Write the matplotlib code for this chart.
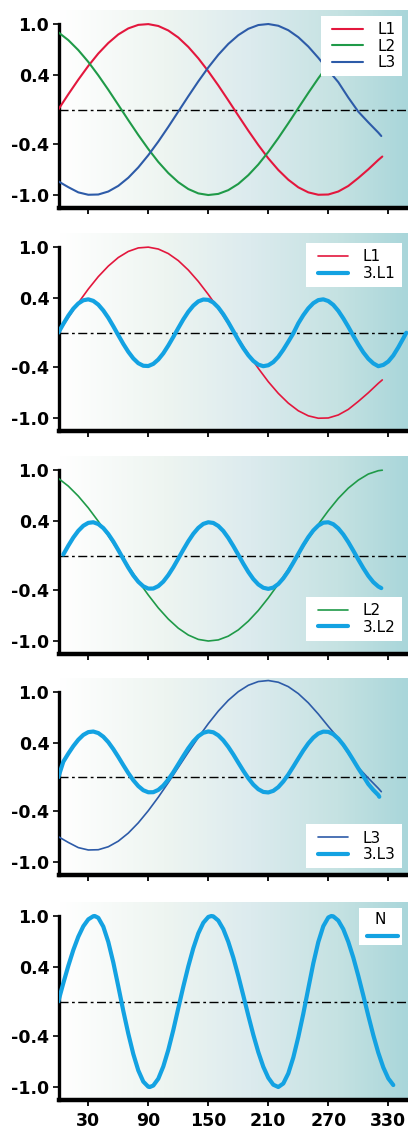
import numpy as np
import matplotlib
matplotlib.use("Agg")
import matplotlib.pyplot as plt
from matplotlib.colors import LinearSegmentedColormap
from matplotlib.lines import Line2D
from matplotlib.legend_handler import HandlerLine2D
from matplotlib.font_manager import FontProperties

plt.rcParams['axes.unicode_minus'] = False
plt.rcParams['lines.scale_dashes'] = False

# ---------------- data ----------------
x_ticks = [30, 90, 150, 210, 270, 330]
x_tick_labels = ["30", "90", "150", "210", "270", "330"]
y_ticks = [-1.0, -0.4, 0.4, 1.0]
y_tick_labels = ["-1.0", "-0.4", "0.4", "1.0"]

L1_x = list(range(0, 330, 10)) + [324]
L1_y = [0, .178, .349, .510, .655, .778, .878, .949, .990, .999, .977, .924, .842, .732,
        .599, .447, .282, .107, -.071, -.247, -.415, -.571, -.707, -.821, -.910, -.969,
        -.997, -.994, -.959, -.894, -.801, -.700, -.590, -.550]

L2_x = list(range(0, 330, 10)) + [324]
L2_y = [.903, .812, .695, .557, .400, .231, .054, -.124, -.298, -.462, -.613, -.743, -.850,
        -.930, -.981, -1.0, -.987, -.943, -.870, -.768, -.643, -.496, -.334, -.161, .017,
        .194, .365, .524, .668, .788, .882, .953, .992, .998]

L3_x = list(range(0, 330, 10)) + [323]
L3_y = [-.840, -.908, -.969, -.997, -.994, -.959, -.893, -.798, -.677, -.534, -.375, -.203,
        -.024, .155, .329, .492, .640, .767, .869, .944, .988, 1.0, .980, .928, .846, .737,
        .605, .460, .320, .140, -.025, -.150, -.270, -.310]

# L3 as drawn in the 4th panel (sits slightly higher)
L3b_y = [-.700, -.768, -.829, -.857, -.854, -.819, -.753, -.658, -.537, -.394, -.235, -.063,
         .116, .295, .469, .632, .780, .907, 1.009, 1.084, 1.128, 1.140, 1.120, 1.068, .986,
         .877, .745, .600, .460, .280, .115, -.010, -.130, -.170]

H1_x = list(range(0, 350, 5)) + [348]
H1_y = [0, .103, .199, .281, .342, .379, .390, .372, .328, .260, .175, .076, -.028, -.130,
        -.222, -.299, -.355, -.385, -.388, -.363, -.312, -.240, -.149, -.049, .055, .156,
        .245, .316, .366, .388, .384, .353, .295, .216, .122, .020, -.083, -.179, -.262,
        -.328, -.372, -.390, -.379, -.342, -.280, -.198, -.104, -.007, .110, .205, .285,
        .345, .381, .390, .370, .325, .256, .168, .070, -.035, -.136, -.228, -.303, -.357,
        -.390, -.375, -.335, -.265, -.170, -.065, 0.0]

H2_x = list(range(5, 325, 5)) + [323]
H2_y = [.012, .115, .210, .289, .348, .382, .389, .368, .321, .251, .164, .064, -.040, -.142,
        -.233, -.307, -.360, -.387, -.386, -.358, -.305, -.229, -.138, -.036, .068, .167,
        .254, .323, .370, .389, .381, .346, .287, .206, .111, .009, -.095, -.192, -.275,
        -.338, -.377, -.390, -.375, -.333, -.267, -.183, -.084, .019, .122, .215, .293,
        .351, .384, .389, .366, .317, .246, .157, .057, -.047, -.147, -.238, -.311, -.362,
        -.381]

H3_x = [0] + list(range(5, 325, 5)) + [321]
H3_y = [0.0, .183, .279, .367, .442, .499, .532, .539, .521, .478, .414, .332, .240, .143,
        .049, -.035, -.104, -.153, -.177, -.176, -.149, -.098, -.027, .059, .154, .250,
        .342, .422, .484, .524, .540, .530, .494, .435, .358, .269, .172, .077, -.011,
        -.086, -.141, -.173, -.179, -.160, -.116, -.050, .032, .125, .221, .315, .399,
        .467, .515, .538, .535, .507, .455, .383, .297, .202, .105, .014, -.080, -.150,
        -.210, -.230]

N_x = [0, 5, 10, 15, 20, 25, 30, 35, 36.5, 40, 45, 50, 55, 60, 65, 70, 75, 80, 85, 90, 91.5,
       95, 100, 105, 110, 115, 120, 125, 130, 135, 140, 145, 150, 153, 155, 160, 165, 170,
       175, 180, 185, 190, 195, 200, 205, 210, 215, 220, 225, 230, 235, 240, 245, 250, 255,
       260, 265, 270, 273, 275, 280, 285, 290, 295, 300, 305, 310, 315, 320, 325, 330, 335]
N_y = [0, .214, .417, .602, .758, .880, .961, .998, 1.0, .979, .876, .697, .457, .177, -.110,
       -.376, -.614, -.806, -.937, -.997, -1.0, -.983, -.903, -.760, -.566, -.334, -.078,
       .174, .411, .623, .797, .921, .989, 1.0, .996, .947, .846, .698, .514, .300, .070,
       -.163, -.388, -.591, -.763, -.892, -.973, -1.0, -.959, -.841, -.655, -.415, -.143,
       .153, .446, .696, .881, .983, 1.0, .996, .947, .846, .698, .514, .300, .070, -.166,
       -.394, -.599, -.771, -.900, -.977]

# ---------------- style ----------------
C_RED = '#e3173d'
C_GREEN = '#1f9a48'
C_BLUE = '#2d5ba8'
C_CYAN = '#13a2e2'

W, H = 408, 1131
fig = plt.figure(figsize=(W / 100, H / 100), dpi=100)
fig.patch.set_facecolor('white')

bg_cmap = LinearSegmentedColormap.from_list(
    'bg', [(0.0, '#ffffff'), (0.3, '#eef5f1'), (0.55, '#dcebee'), (0.8, '#c5e2e2'), (1.0, '#a9d6da')])

YLIM = (-1.146, 1.164)
XLIM = (0.7, 349.7)
panels_px = [(10, 207.5), (233, 431), (456, 653.5), (678.5, 874.5), (902, 1099.5)]
tick_font = FontProperties(family='DejaVu Sans', weight='bold', size=12.5)
leg_font = FontProperties(family='DejaVu Sans', size=11)
small_font = FontProperties(family='DejaVu Sans', size=6)

axes = []
for i, (top, bot) in enumerate(panels_px):
    left = 59
    ax = fig.add_axes([left / W, 1 - bot / H, (W - left) / W, (bot - top) / H])
    grad = np.linspace(0, 1, 256).reshape(1, -1)
    ax.imshow(grad, cmap=bg_cmap, extent=[0, 1, 0, 1], transform=ax.transAxes,
              aspect='auto', zorder=0, interpolation='bilinear')
    ax.set_xlim(*XLIM)
    ax.set_ylim(*YLIM)
    ax.set_aspect('auto')
    for s in ['top', 'right']:
        ax.spines[s].set_visible(False)
    ax.spines['left'].set_linewidth(2.4)
    ax.spines['bottom'].set_linewidth(3.2)
    ax.spines['left'].set_bounds(YLIM[0], 1.0)
    ax.set_yticks(y_ticks)
    ax.set_yticklabels(y_tick_labels, fontproperties=tick_font)
    ax.set_xticks(x_ticks)
    if i == 4:
        ax.set_xticklabels(x_tick_labels, fontproperties=tick_font)
    else:
        ax.set_xticklabels([])
    ax.tick_params(axis='y', length=4, width=1.2, pad=3, direction='out')
    ax.tick_params(axis='x', length=4, width=1.3, pad=5, direction='out')
    ax.axhline(0, color='black', lw=1.0, dashes=(6.5, 2.5, 2, 2.5), zorder=1.5)
    axes.append(ax)

handler = {Line2D: HandlerLine2D(xpad=0.37)}
leg_kw = dict(frameon=True, fancybox=False, edgecolor='none', facecolor='white',
              framealpha=1, borderaxespad=0, prop=leg_font, handlelength=2.37,
              handletextpad=0.95, labelspacing=0.1, borderpad=0.4, handler_map=handler)

# Panel 1
ax = axes[0]
ax.plot(L1_x, L1_y, color=C_RED, lw=1.5, solid_capstyle='round', zorder=3, label='L1')
ax.plot(L2_x, L2_y, color=C_GREEN, lw=1.5, solid_capstyle='round', zorder=3, label='L2')
ax.plot(L3_x, L3_y, color=C_BLUE, lw=1.5, solid_capstyle='round', zorder=3, label='L3')
ax.legend(loc='upper right', bbox_to_anchor=(0.982, 0.970), **leg_kw)

# Panel 2
ax = axes[1]
ax.plot(L1_x, L1_y, color=C_RED, lw=1.2, solid_capstyle='round', zorder=3, label='L1')
ax.plot(H1_x, H1_y, color=C_CYAN, lw=3.0, solid_capstyle='round', zorder=4, label='3.L1')
ax.legend(loc='upper right', bbox_to_anchor=(0.982, 0.948), **leg_kw)

# Panel 3
ax = axes[2]
ax.plot(L2_x, L2_y, color=C_GREEN, lw=1.2, solid_capstyle='round', zorder=3, label='L2')
ax.plot(H2_x, H2_y, color=C_CYAN, lw=3.0, solid_capstyle='round', zorder=4, label='3.L2')
ax.legend(loc='lower right', bbox_to_anchor=(0.982, 0.064), **leg_kw)

# Panel 4
ax = axes[3]
ax.plot(L3_x, L3b_y, color=C_BLUE, lw=1.2, solid_capstyle='round', zorder=3, label='L3')
ax.plot(H3_x, H3_y, color=C_CYAN, lw=3.0, solid_capstyle='round', zorder=4, label='3.L3')
ax.legend(loc='lower right', bbox_to_anchor=(0.982, 0.032), **leg_kw)

# Panel 5
ax = axes[4]
lnN, = ax.plot(N_x, N_y, color=C_CYAN, lw=3.0, solid_capstyle='round', zorder=4)
ax.legend([lnN], [''], title='N', title_fontproperties=leg_font, loc='upper right',
          bbox_to_anchor=(0.982, 0.968), frameon=True, fancybox=False, edgecolor='none',
          facecolor='white', framealpha=1, borderaxespad=0, prop=small_font,
          handlelength=4.18, handletextpad=0.0, borderpad=0.5,
          handler_map={Line2D: HandlerLine2D(xpad=0.5)})

fig.savefig('out.png', dpi=100)
